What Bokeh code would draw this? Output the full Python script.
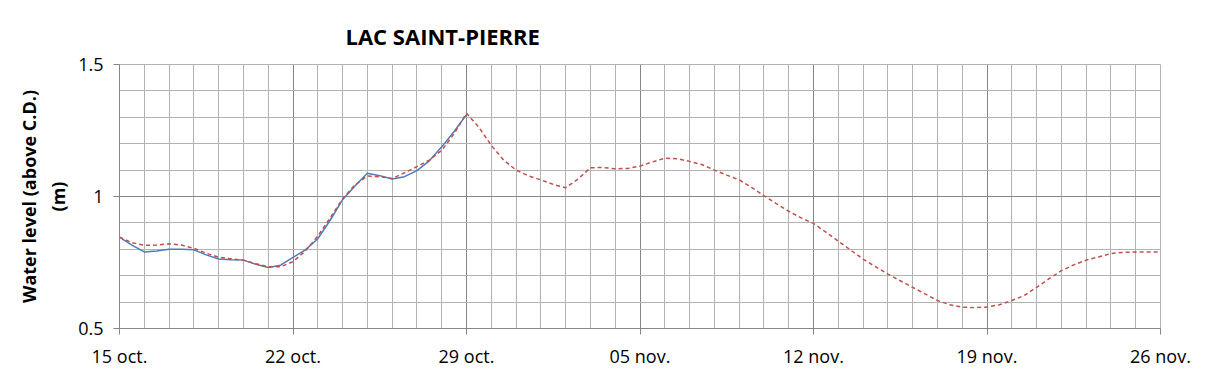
import pandas as pd
from bokeh.plotting import figure
from bokeh.models import FixedTicker, Range1d
from bokeh.embed import file_html
from bokeh.resources import INLINE

# ---- data ----
start = pd.Timestamp("2013-10-15")
tick_days = [0, 7, 14, 21, 28, 35, 42]
tick_labels = ["15 oct.", "22 oct.", "29 oct.", "05 nov.", "12 nov.", "19 nov.", "26 nov."]

# observed water level (m), every 12 h from 15 oct. 00:00
obs_level = [0.846, 0.816, 0.790, 0.794, 0.800, 0.800, 0.798, 0.779, 0.763, 0.760,
             0.759, 0.743, 0.731, 0.740, 0.769, 0.798, 0.840, 0.910, 0.988, 1.040,
             1.088, 1.079, 1.066, 1.075, 1.098, 1.135, 1.188, 1.246, 1.310]

# forecast water level (m), every 12 h from 15 oct. 00:00
fc_level = [0.846, 0.825, 0.815, 0.816, 0.821, 0.816, 0.804, 0.785, 0.770, 0.764,
            0.759, 0.745, 0.734, 0.734, 0.753, 0.794, 0.850, 0.919, 0.991, 1.044,
            1.078, 1.075, 1.068, 1.090, 1.113, 1.138, 1.175, 1.238, 1.315, 1.262,
            1.194, 1.138, 1.100, 1.078, 1.063, 1.046, 1.033, 1.066, 1.109, 1.110,
            1.105, 1.106, 1.115, 1.131, 1.145, 1.143, 1.133, 1.121, 1.100, 1.081,
            1.063, 1.035, 1.003, 0.973, 0.944, 0.919, 0.898, 0.865, 0.831, 0.797,
            0.763, 0.734, 0.706, 0.681, 0.656, 0.631, 0.606, 0.590, 0.581, 0.579,
            0.581, 0.590, 0.606, 0.625, 0.656, 0.688, 0.719, 0.741, 0.759, 0.771,
            0.784, 0.788, 0.790, 0.790, 0.790]

obs_time = pd.date_range(start, periods=len(obs_level), freq="12h")
fc_time = pd.date_range(start, periods=len(fc_level), freq="12h")

y_major = [0.5, 1.0, 1.5]
y_minor = [0.6, 0.7, 0.8, 0.9, 1.1, 1.2, 1.3, 1.4]


def to_ms(days):
    return [int((start + pd.Timedelta(days=d)).timestamp() * 1000) for d in days]


x_major = to_ms(tick_days)
x_minor = to_ms(list(range(0, 43)))

p = figure(width=1193, height=370, x_axis_type="datetime", output_backend="svg",
           toolbar_location=None,
           x_range=Range1d(start, start + pd.Timedelta(days=42)),
           y_range=Range1d(0.5, 1.5),
           min_border_left=119, min_border_right=33, min_border_top=64, min_border_bottom=41)

major_col = "#868686"
minor_col = "#b3b3b3"
font = "Open Sans"

xt = FixedTicker(ticks=x_major, minor_ticks=x_minor)
yt = FixedTicker(ticks=y_major, minor_ticks=y_minor)
p.xaxis.ticker = xt
p.yaxis.ticker = yt
p.xgrid.ticker = xt
p.ygrid.ticker = yt

for g in (p.xgrid, p.ygrid):
    g.grid_line_color = major_col
    g.grid_line_width = 1
    g.minor_grid_line_color = minor_col
    g.minor_grid_line_width = 1

p.outline_line_color = minor_col

p.xaxis.major_label_overrides = {ms: lab for ms, lab in zip(x_major, tick_labels)}
p.yaxis.major_label_overrides = {0.5: "0.5", 1.0: "1", 1.5: "1.5"}

for ax in (p.xaxis, p.yaxis):
    ax.axis_line_color = major_col
    ax.major_tick_line_color = major_col
    ax.major_tick_in = 0
    ax.major_tick_out = 6
    ax.minor_tick_line_color = None
    ax.major_label_text_font = font
    ax.major_label_text_font_size = "18px"
    ax.major_label_text_color = "#000000"

p.xaxis.major_label_standoff = 9
p.yaxis.major_label_standoff = 10

p.yaxis.axis_label = "Water level (above C.D.)\n(m)"
p.yaxis.axis_label_text_font = font
p.yaxis.axis_label_text_font_size = "18px"
p.yaxis.axis_label_text_font_style = "bold"
p.yaxis.axis_label_text_color = "#000000"

p.title.text = "LAC SAINT-PIERRE"
p.title.align = "left"
p.title.offset = 226
p.title.standoff = 27
p.title.text_font = font
p.title.text_font_size = "22px"
p.title.text_font_style = "bold"
p.title.text_color = "#000000"

p.line(obs_time, obs_level, line_color="#4a7ebb", line_width=1.5)
p.line(fc_time, fc_level, line_color="#c0504d", line_width=1.5, line_dash="4 3")

open("out.html", "w").write(file_html(p, INLINE))
